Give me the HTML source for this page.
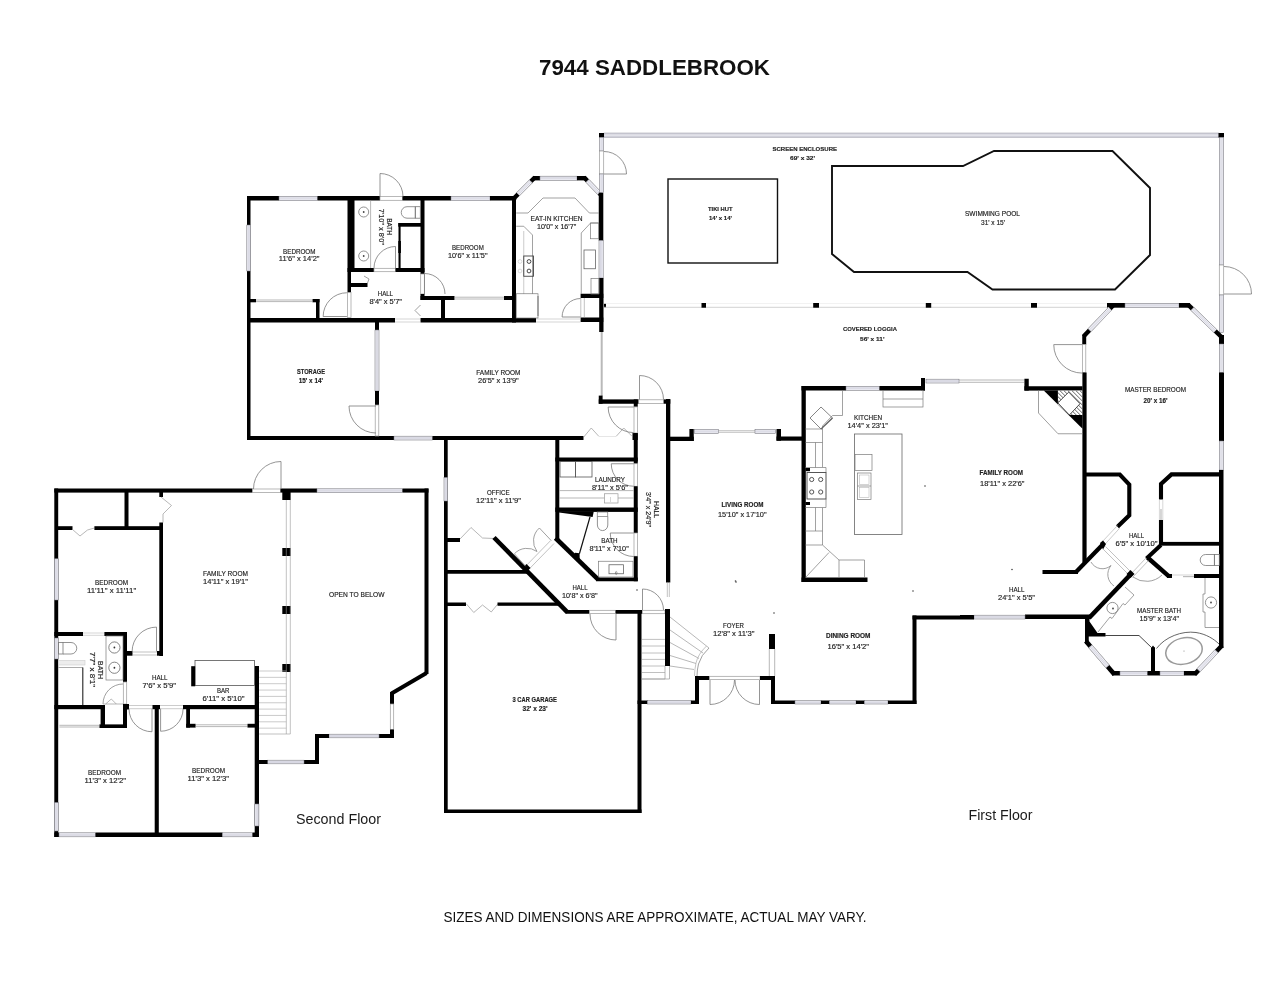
<!DOCTYPE html>
<html><head><meta charset="utf-8"><title>7944 Saddlebrook</title>
<style>html,body{margin:0;padding:0;background:#fff}svg{display:block;will-change:transform}text{font-family:"Liberation Sans",sans-serif}</style>
</head><body>
<svg width="1280" height="989" viewBox="0 0 1280 989">
<rect width="1280" height="989" fill="#fff"/>
<text x="539.00" y="75.00" textLength="231.00" lengthAdjust="spacingAndGlyphs" font-family="Liberation Sans" font-size="22.8" font-weight="bold" fill="#111">7944 SADDLEBROOK</text>
<text x="443.50" y="922.00" textLength="423.00" lengthAdjust="spacingAndGlyphs" font-family="Liberation Sans" font-size="14" fill="#111">SIZES AND DIMENSIONS ARE APPROXIMATE, ACTUAL MAY VARY.</text>
<text x="296.00" y="824.40" textLength="85.00" lengthAdjust="spacingAndGlyphs" font-family="Liberation Sans" font-size="14.8" fill="#1a1a1a">Second Floor</text>
<text x="968.50" y="820.00" textLength="64.00" lengthAdjust="spacingAndGlyphs" font-family="Liberation Sans" font-size="14.8" fill="#1a1a1a">First Floor</text>
<rect x="247.00" y="196.00" width="3.50" height="244.00" fill="#000"/>
<rect x="247.00" y="196.00" width="32.00" height="4.50" fill="#000"/>
<rect x="279.00" y="196.30" width="38.50" height="4.20" fill="#f3f3f9" stroke="#707078" stroke-width="0.55"/>
<line x1="279.00" y1="197.81" x2="317.50" y2="197.81" stroke="#b8b8c6" stroke-width="0.45"/>
<line x1="279.00" y1="198.99" x2="317.50" y2="198.99" stroke="#b8b8c6" stroke-width="0.45"/>
<rect x="317.50" y="196.00" width="62.50" height="4.50" fill="#000"/>
<rect x="380.00" y="196.50" width="22.50" height="3.80" fill="#fff" stroke="#9a9a9a" stroke-width="0.7"/>
<rect x="402.50" y="196.00" width="48.50" height="4.50" fill="#000"/>
<rect x="451.00" y="196.30" width="39.00" height="4.20" fill="#f3f3f9" stroke="#707078" stroke-width="0.55"/>
<line x1="451.00" y1="197.81" x2="490.00" y2="197.81" stroke="#b8b8c6" stroke-width="0.45"/>
<line x1="451.00" y1="198.99" x2="490.00" y2="198.99" stroke="#b8b8c6" stroke-width="0.45"/>
<rect x="490.00" y="196.00" width="26.00" height="4.50" fill="#000"/>
<path d="M380.00,196.50 L380.00,173.50 A23.00,23.00 0 0 1 403.00,196.50" fill="none" stroke="#7a7a7a" stroke-width="0.8"/>
<rect x="246.80" y="225.00" width="3.90" height="46.00" fill="#f3f3f9" stroke="#707078" stroke-width="0.55"/>
<line x1="248.20" y1="225.00" x2="248.20" y2="271.00" stroke="#b8b8c6" stroke-width="0.45"/>
<line x1="249.30" y1="225.00" x2="249.30" y2="271.00" stroke="#b8b8c6" stroke-width="0.45"/>
<rect x="347.50" y="198.00" width="7.00" height="74.00" fill="#000"/>
<rect x="347.50" y="272.00" width="3.50" height="20.50" fill="#000"/>
<rect x="347.50" y="292.50" width="3.50" height="25.00" fill="#fff" stroke="#9a9a9a" stroke-width="0.7"/>
<rect x="347.50" y="268.00" width="26.50" height="4.00" fill="#000"/>
<rect x="374.00" y="268.30" width="21.50" height="3.40" fill="#fff" stroke="#9a9a9a" stroke-width="0.7"/>
<rect x="395.50" y="268.00" width="29.00" height="4.00" fill="#000"/>
<rect x="420.50" y="198.00" width="4.00" height="76.00" fill="#000"/>
<rect x="420.70" y="274.00" width="3.60" height="20.00" fill="#fff" stroke="#9a9a9a" stroke-width="0.7"/>
<rect x="420.50" y="294.00" width="4.00" height="6.00" fill="#000"/>
<rect x="398.30" y="223.00" width="23.70" height="3.70" fill="#000"/>
<rect x="398.50" y="223.00" width="2.10" height="45.00" fill="#000"/>
<rect x="398.30" y="241.00" width="2.60" height="12.00" fill="#000"/>
<rect x="247.00" y="318.00" width="148.00" height="4.50" fill="#000"/>
<rect x="420.50" y="318.00" width="115.50" height="4.50" fill="#000"/>
<path d="M395.00,319.00 L420.50,319.00" stroke="#bbb" stroke-width="0.6" fill="none" stroke-linejoin="miter" stroke-linecap="butt"/>
<path d="M395.00,322.00 L420.50,322.00" stroke="#bbb" stroke-width="0.6" fill="none" stroke-linejoin="miter" stroke-linecap="butt"/>
<rect x="250.00" y="299.00" width="6.00" height="3.30" fill="#000"/>
<rect x="312.50" y="299.00" width="7.00" height="3.30" fill="#000"/>
<rect x="316.00" y="299.00" width="3.50" height="21.00" fill="#000"/>
<path d="M256.00,300.00 L312.50,300.00" stroke="#999" stroke-width="0.7" fill="none" stroke-linejoin="miter" stroke-linecap="butt"/>
<path d="M256.00,301.60 L312.50,301.60" stroke="#999" stroke-width="0.7" fill="none" stroke-linejoin="miter" stroke-linecap="butt"/>
<rect x="351.00" y="283.00" width="16.50" height="4.00" fill="#000"/>
<rect x="420.50" y="296.00" width="34.00" height="4.00" fill="#000"/>
<rect x="504.00" y="296.00" width="10.00" height="4.00" fill="#000"/>
<rect x="441.00" y="296.00" width="4.00" height="24.00" fill="#000"/>
<path d="M454.50,297.20 L504.00,297.20" stroke="#999" stroke-width="0.7" fill="none" stroke-linejoin="miter" stroke-linecap="butt"/>
<path d="M454.50,299.00 L504.00,299.00" stroke="#999" stroke-width="0.7" fill="none" stroke-linejoin="miter" stroke-linecap="butt"/>
<rect x="512.00" y="196.00" width="4.00" height="126.50" fill="#000"/>
<path d="M346.90,316.50 L323.15,316.50 A23.75,23.75 0 0 1 346.90,292.75" fill="none" stroke="#7a7a7a" stroke-width="0.8"/>
<path d="M395.50,268.00 L395.50,246.50 A21.50,21.50 0 0 0 374.00,268.00" fill="none" stroke="#7a7a7a" stroke-width="0.8"/>
<path d="M424.50,294.00 L424.50,273.50 A20.50,20.50 0 0 1 445.00,294.00" fill="none" stroke="#7a7a7a" stroke-width="0.8"/>
<path d="M420.50,305.00 L415.00,310.50 L420.50,316.00" stroke="#7a7a7a" stroke-width="0.7" fill="none" stroke-linejoin="miter" stroke-linecap="butt"/>
<path d="M364.00,276.00 L369.00,279.00 L367.50,283.00" stroke="#7a7a7a" stroke-width="0.7" fill="none" stroke-linejoin="miter" stroke-linecap="butt"/>
<path d="M370.60,200.50 L370.60,268.00" stroke="#999" stroke-width="0.7" fill="none" stroke-linejoin="miter" stroke-linecap="butt"/>
<circle cx="363.7" cy="212" r="5" fill="none" stroke="#777" stroke-width="0.8"/><circle cx="363.7" cy="212" r="0.9" fill="#444"/>
<circle cx="363.7" cy="256" r="5" fill="none" stroke="#777" stroke-width="0.8"/><circle cx="363.7" cy="256" r="0.9" fill="#444"/>
<path d="M415.3,206.7 L407,206.7 A5.75,5.75 0 0 0 407,218.2 L415.3,218.2 Z" fill="none" stroke="#777" stroke-width="0.8"/>
<rect x="415.30" y="206.70" width="5.00" height="11.50" fill="none" stroke="#777" stroke-width="0.8"/>
<rect x="247.00" y="436.00" width="147.00" height="4.00" fill="#000"/>
<rect x="394.00" y="436.20" width="38.50" height="3.80" fill="#f3f3f9" stroke="#707078" stroke-width="0.55"/>
<line x1="394.00" y1="437.57" x2="432.50" y2="437.57" stroke="#b8b8c6" stroke-width="0.45"/>
<line x1="394.00" y1="438.63" x2="432.50" y2="438.63" stroke="#b8b8c6" stroke-width="0.45"/>
<rect x="432.50" y="436.00" width="151.00" height="4.00" fill="#000"/>
<rect x="375.00" y="322.00" width="4.00" height="8.00" fill="#000"/>
<rect x="375.00" y="330.00" width="4.00" height="61.00" fill="#f3f3f9" stroke="#707078" stroke-width="0.55"/>
<line x1="376.44" y1="330.00" x2="376.44" y2="391.00" stroke="#b8b8c6" stroke-width="0.45"/>
<line x1="377.56" y1="330.00" x2="377.56" y2="391.00" stroke="#b8b8c6" stroke-width="0.45"/>
<rect x="375.00" y="391.00" width="4.00" height="14.00" fill="#000"/>
<rect x="375.20" y="405.00" width="3.60" height="31.00" fill="#fff" stroke="#9a9a9a" stroke-width="0.7"/>
<path d="M376.00,406.00 L349.00,406.00 A27.00,27.00 0 0 0 376.00,433.00" fill="none" stroke="#7a7a7a" stroke-width="0.8"/>
<rect x="632.50" y="433.00" width="5.25" height="7.00" fill="#000"/>
<path d="M583.75,437.00 L591.25,428.00 L598.75,436.25" stroke="#999" stroke-width="0.7" fill="none" stroke-linejoin="miter" stroke-linecap="butt"/>
<path d="M616.25,436.25 L623.75,428.00 L632.00,436.25" stroke="#999" stroke-width="0.7" fill="none" stroke-linejoin="miter" stroke-linecap="butt"/>
<path d="M598.75,436.50 L616.25,436.50" stroke="#ccc" stroke-width="0.5" fill="none" stroke-linejoin="miter" stroke-linecap="butt"/>
<text x="283.00" y="253.75" textLength="32.50" lengthAdjust="spacingAndGlyphs" font-family="Liberation Sans" font-size="6.7" stroke="#222" stroke-width="0.15" fill="#222">BEDROOM</text>
<text x="278.75" y="261.25" textLength="40.75" lengthAdjust="spacingAndGlyphs" font-family="Liberation Sans" font-size="6.7" stroke="#222" stroke-width="0.15" fill="#222">11'6&quot; x 14'2&quot;</text>
<text x="452.00" y="250.00" textLength="31.75" lengthAdjust="spacingAndGlyphs" font-family="Liberation Sans" font-size="6.7" stroke="#222" stroke-width="0.15" fill="#222">BEDROOM</text>
<text x="448.00" y="258.00" textLength="39.50" lengthAdjust="spacingAndGlyphs" font-family="Liberation Sans" font-size="6.7" stroke="#222" stroke-width="0.15" fill="#222">10'6&quot; x 11'5&quot;</text>
<text x="377.75" y="296.30" textLength="15.25" lengthAdjust="spacingAndGlyphs" font-family="Liberation Sans" font-size="6.7" stroke="#222" stroke-width="0.15" fill="#222">HALL</text>
<text x="369.40" y="303.80" textLength="32.60" lengthAdjust="spacingAndGlyphs" font-family="Liberation Sans" font-size="6.7" stroke="#222" stroke-width="0.15" fill="#222">8'4&quot; x 5'7&quot;</text>
<text x="297.00" y="374.25" textLength="28.00" lengthAdjust="spacingAndGlyphs" font-family="Liberation Sans" font-size="6.7" font-weight="bold" stroke="#222" stroke-width="0.15" fill="#222">STORAGE</text>
<text x="298.75" y="382.50" textLength="24.25" lengthAdjust="spacingAndGlyphs" font-family="Liberation Sans" font-size="6.7" font-weight="bold" stroke="#222" stroke-width="0.15" fill="#222">15' x 14'</text>
<text x="476.25" y="375.00" textLength="44.25" lengthAdjust="spacingAndGlyphs" font-family="Liberation Sans" font-size="6.7" stroke="#222" stroke-width="0.15" fill="#222">FAMILY ROOM</text>
<text x="478.00" y="383.00" textLength="40.75" lengthAdjust="spacingAndGlyphs" font-family="Liberation Sans" font-size="6.7" stroke="#222" stroke-width="0.15" fill="#222">26'5&quot; x 13'9&quot;</text>
<text x="0" y="0" textLength="16.80" lengthAdjust="spacingAndGlyphs" font-size="6.7" stroke="#222" stroke-width="0.15" fill="#222" transform="translate(387.00,218.20) rotate(90)">BATH</text>
<text x="0" y="0" textLength="36.20" lengthAdjust="spacingAndGlyphs" font-size="6.7" stroke="#222" stroke-width="0.15" fill="#222" transform="translate(379.00,208.80) rotate(90)">7'10&quot; x 8'0&quot;</text>
<rect x="533.00" y="176.00" width="7.00" height="4.40" fill="#000"/>
<rect x="540.00" y="176.20" width="37.00" height="4.10" fill="#f3f3f9" stroke="#707078" stroke-width="0.55"/>
<line x1="540.00" y1="177.68" x2="577.00" y2="177.68" stroke="#b8b8c6" stroke-width="0.45"/>
<line x1="540.00" y1="178.82" x2="577.00" y2="178.82" stroke="#b8b8c6" stroke-width="0.45"/>
<rect x="577.00" y="176.00" width="9.00" height="4.40" fill="#000"/>
<path d="M535.00,177.20 L514.00,198.30" stroke="#000" stroke-width="4.4" fill="none" stroke-linejoin="miter" stroke-linecap="butt"/>
<path d="M530.80,181.42 L518.20,194.08" stroke="#fff" stroke-width="4.800000000000001" fill="none" stroke-linejoin="miter" stroke-linecap="butt"/>
<path d="M529.35,179.97 L516.75,192.63 L519.65,195.53 L532.25,182.87 Z" fill="#f3f3f9" stroke="#707078" stroke-width="0.55"/>
<line x1="531.21" y1="181.82" x2="518.61" y2="194.48" stroke="#b8b8c6" stroke-width="0.45"/>
<line x1="530.39" y1="181.02" x2="517.79" y2="193.68" stroke="#b8b8c6" stroke-width="0.45"/>
<path d="M584.00,177.20 L601.50,195.50" stroke="#000" stroke-width="4.4" fill="none" stroke-linejoin="miter" stroke-linecap="butt"/>
<path d="M587.50,180.86 L599.23,193.12" stroke="#fff" stroke-width="4.800000000000001" fill="none" stroke-linejoin="miter" stroke-linecap="butt"/>
<path d="M586.02,182.28 L597.74,194.54 L600.71,191.70 L588.98,179.44 Z" fill="#f3f3f9" stroke="#707078" stroke-width="0.55"/>
<line x1="587.91" y1="180.46" x2="599.64" y2="192.72" stroke="#b8b8c6" stroke-width="0.45"/>
<line x1="587.09" y1="181.26" x2="598.81" y2="193.52" stroke="#b8b8c6" stroke-width="0.45"/>
<rect x="512.00" y="196.00" width="4.25" height="4.00" fill="#000"/>
<rect x="598.75" y="192.50" width="4.55" height="48.10" fill="#000"/>
<rect x="599.00" y="240.60" width="4.20" height="37.40" fill="#f3f3f9" stroke="#707078" stroke-width="0.55"/>
<line x1="600.51" y1="240.60" x2="600.51" y2="278.00" stroke="#b8b8c6" stroke-width="0.45"/>
<line x1="601.69" y1="240.60" x2="601.69" y2="278.00" stroke="#b8b8c6" stroke-width="0.45"/>
<rect x="599.20" y="278.00" width="4.30" height="54.00" fill="#000"/>
<rect x="604.00" y="303.50" width="2.00" height="4.00" fill="#000"/>
<path d="M601.70,332.00 L601.70,396.00" stroke="#b9b9b9" stroke-width="2.0" fill="none" stroke-linejoin="miter" stroke-linecap="butt"/>
<rect x="580.60" y="293.75" width="22.70" height="4.25" fill="#000"/>
<rect x="580.60" y="317.50" width="22.70" height="4.50" fill="#000"/>
<path d="M580.60,317.00 L562.10,317.00 A18.50,18.50 0 0 1 580.60,298.50" fill="none" stroke="#7a7a7a" stroke-width="0.8"/>
<path d="M580.80,298.00 L580.80,317.50" stroke="#999" stroke-width="0.6" fill="none" stroke-linejoin="miter" stroke-linecap="butt"/>
<path d="M584.30,298.00 L584.30,317.50" stroke="#999" stroke-width="0.6" fill="none" stroke-linejoin="miter" stroke-linecap="butt"/>
<path d="M536.00,319.00 L580.50,319.00" stroke="#bbb" stroke-width="0.6" fill="none" stroke-linejoin="miter" stroke-linecap="butt"/>
<path d="M536.00,322.00 L580.50,322.00" stroke="#bbb" stroke-width="0.6" fill="none" stroke-linejoin="miter" stroke-linecap="butt"/>
<path d="M516.25,213.00 L528.00,213.00 L543.00,198.00 L575.00,198.00 L589.40,213.00 L598.75,213.00" stroke="#7a7a7a" stroke-width="0.7" fill="none" stroke-linejoin="miter" stroke-linecap="butt"/>
<path d="M516.25,226.25 L523.75,226.25 L532.50,235.00 L532.50,294.00" stroke="#7a7a7a" stroke-width="0.7" fill="none" stroke-linejoin="miter" stroke-linecap="butt"/>
<path d="M523.75,231.00 L523.75,294.00" stroke="#aaa" stroke-width="0.6" fill="none" stroke-linejoin="miter" stroke-linecap="butt"/>
<rect x="523.75" y="256.00" width="9.75" height="20.25" fill="none" stroke="#444" stroke-width="0.9"/>
<circle cx="529" cy="261.5" r="1.9" fill="none" stroke="#333" stroke-width="0.9"/>
<circle cx="520" cy="261.5" r="1.9" fill="none" stroke="#ccc" stroke-width="0.7"/>
<circle cx="529" cy="271" r="1.9" fill="none" stroke="#333" stroke-width="0.9"/>
<circle cx="520" cy="271" r="1.9" fill="none" stroke="#ccc" stroke-width="0.7"/>
<rect x="516.25" y="293.75" width="21.75" height="24.25" fill="none" stroke="#7a7a7a" stroke-width="0.7"/>
<path d="M538.00,296.00 L538.00,316.00" stroke="#777" stroke-width="1.0" fill="none" stroke-linejoin="miter" stroke-linecap="butt"/>
<path d="M598.75,223.00 L590.60,223.00 L581.25,233.00 L581.25,294.00" stroke="#7a7a7a" stroke-width="0.7" fill="none" stroke-linejoin="miter" stroke-linecap="butt"/>
<rect x="584.00" y="250.00" width="11.60" height="18.75" fill="none" stroke="#666" stroke-width="0.8"/>
<rect x="590.60" y="223.00" width="8.15" height="15.75" fill="none" stroke="#7a7a7a" stroke-width="0.7"/>
<rect x="591.00" y="278.50" width="7.75" height="15.50" fill="none" stroke="#7a7a7a" stroke-width="0.7"/>
<text x="530.60" y="220.60" textLength="51.90" lengthAdjust="spacingAndGlyphs" font-family="Liberation Sans" font-size="6.7" stroke="#222" stroke-width="0.15" fill="#222">EAT-IN KITCHEN</text>
<text x="537.00" y="228.75" textLength="39.25" lengthAdjust="spacingAndGlyphs" font-family="Liberation Sans" font-size="6.7" stroke="#222" stroke-width="0.15" fill="#222">10'0&quot; x 16'7&quot;</text>
<rect x="604" y="133" width="615" height="4.3" fill="#d0d0da" stroke="#a8a8b2" stroke-width="0.6"/>
<line x1="604" y1="135.1" x2="1219" y2="135.1" stroke="#e8e8ee" stroke-width="1.2"/>
<rect x="599.00" y="133.00" width="5.00" height="4.50" fill="#000"/>
<rect x="1218.50" y="133.00" width="5.50" height="4.50" fill="#000"/>
<rect x="599.50" y="137.50" width="4.20" height="13.50" fill="#f3f3f9" stroke="#707078" stroke-width="0.55"/>
<line x1="601.01" y1="137.50" x2="601.01" y2="151.00" stroke="#b8b8c6" stroke-width="0.45"/>
<line x1="602.19" y1="137.50" x2="602.19" y2="151.00" stroke="#b8b8c6" stroke-width="0.45"/>
<rect x="599.50" y="151.00" width="4.20" height="23.00" fill="#fff" stroke="#9a9a9a" stroke-width="0.7"/>
<rect x="599.50" y="174.00" width="4.20" height="18.50" fill="#f3f3f9" stroke="#707078" stroke-width="0.55"/>
<line x1="601.01" y1="174.00" x2="601.01" y2="192.50" stroke="#b8b8c6" stroke-width="0.45"/>
<line x1="602.19" y1="174.00" x2="602.19" y2="192.50" stroke="#b8b8c6" stroke-width="0.45"/>
<path d="M604.00,174.00 L626.50,174.00 A22.50,22.50 0 0 0 604.00,151.50" fill="none" stroke="#7a7a7a" stroke-width="0.8"/>
<rect x="1219.30" y="137.50" width="4.40" height="127.50" fill="#f3f3f9" stroke="#707078" stroke-width="0.55"/>
<line x1="1220.88" y1="137.50" x2="1220.88" y2="265.00" stroke="#b8b8c6" stroke-width="0.45"/>
<line x1="1222.12" y1="137.50" x2="1222.12" y2="265.00" stroke="#b8b8c6" stroke-width="0.45"/>
<rect x="1219.30" y="265.00" width="4.40" height="30.00" fill="#fff" stroke="#9a9a9a" stroke-width="0.7"/>
<rect x="1219.30" y="295.00" width="4.40" height="37.50" fill="#f3f3f9" stroke="#707078" stroke-width="0.55"/>
<line x1="1220.88" y1="295.00" x2="1220.88" y2="332.50" stroke="#b8b8c6" stroke-width="0.45"/>
<line x1="1222.12" y1="295.00" x2="1222.12" y2="332.50" stroke="#b8b8c6" stroke-width="0.45"/>
<path d="M1224.00,294.00 L1251.50,294.00 A27.50,27.50 0 0 0 1224.00,266.50" fill="none" stroke="#7a7a7a" stroke-width="0.8"/>
<path d="M604.00,307.30 L1107.00,307.30" stroke="#cdcdcd" stroke-width="0.9" fill="none" stroke-linejoin="miter" stroke-linecap="butt"/>
<path d="M604.00,303.50 L1107.00,303.50" stroke="#ececec" stroke-width="0.7" fill="none" stroke-linejoin="miter" stroke-linecap="butt"/>
<rect x="701.50" y="303.00" width="4.50" height="4.70" fill="#000"/>
<rect x="813.20" y="303.00" width="5.80" height="4.70" fill="#000"/>
<rect x="925.80" y="303.00" width="5.40" height="4.70" fill="#000"/>
<rect x="1031.00" y="303.00" width="6.00" height="4.70" fill="#000"/>
<rect x="668.00" y="179.00" width="109.50" height="84.00" fill="none" stroke="#111" stroke-width="1.4"/>
<path d="M832.00,166.00 L963.00,166.00 L994.00,151.00 L1112.50,151.00 L1150.00,188.00 L1150.00,255.00 L1115.00,289.50 L992.50,289.50 L967.50,272.00 L854.00,272.00 L832.00,254.00 Z" stroke="#111" stroke-width="1.9" fill="none" stroke-linejoin="miter" stroke-linecap="butt"/>
<text x="772.50" y="150.50" textLength="64.50" lengthAdjust="spacingAndGlyphs" font-family="Liberation Sans" font-size="6.14" font-weight="bold" stroke="#222" stroke-width="0.15" fill="#222">SCREEN ENCLOSURE</text>
<text x="790.00" y="160.00" textLength="25.00" lengthAdjust="spacingAndGlyphs" font-family="Liberation Sans" font-size="6.14" font-weight="bold" stroke="#222" stroke-width="0.15" fill="#222">69' x 32'</text>
<text x="708.00" y="211.00" textLength="24.50" lengthAdjust="spacingAndGlyphs" font-family="Liberation Sans" font-size="6.14" font-weight="bold" stroke="#222" stroke-width="0.15" fill="#222">TIKI HUT</text>
<text x="709.00" y="220.00" textLength="23.00" lengthAdjust="spacingAndGlyphs" font-family="Liberation Sans" font-size="6.14" font-weight="bold" stroke="#222" stroke-width="0.15" fill="#222">14' x 14'</text>
<text x="965.00" y="216.00" textLength="55.00" lengthAdjust="spacingAndGlyphs" font-family="Liberation Sans" font-size="6.32" stroke="#222" stroke-width="0.15" fill="#222">SWIMMING POOL</text>
<text x="981.00" y="225.00" textLength="24.00" lengthAdjust="spacingAndGlyphs" font-family="Liberation Sans" font-size="6.32" stroke="#222" stroke-width="0.15" fill="#222">31' x 15'</text>
<text x="843.00" y="331.00" textLength="54.00" lengthAdjust="spacingAndGlyphs" font-family="Liberation Sans" font-size="6.14" font-weight="bold" stroke="#222" stroke-width="0.15" fill="#222">COVERED LOGGIA</text>
<text x="860.00" y="341.00" textLength="24.50" lengthAdjust="spacingAndGlyphs" font-family="Liberation Sans" font-size="6.14" font-weight="bold" stroke="#222" stroke-width="0.15" fill="#222">56' x 11'</text>
<rect x="1107.00" y="303.00" width="18.00" height="4.70" fill="#000"/>
<rect x="1125.00" y="303.30" width="54.00" height="4.20" fill="#f3f3f9" stroke="#707078" stroke-width="0.55"/>
<line x1="1125.00" y1="304.81" x2="1179.00" y2="304.81" stroke="#b8b8c6" stroke-width="0.45"/>
<line x1="1125.00" y1="305.99" x2="1179.00" y2="305.99" stroke="#b8b8c6" stroke-width="0.45"/>
<rect x="1179.00" y="303.00" width="11.00" height="4.70" fill="#000"/>
<path d="M1114.00,304.60 L1083.50,336.50" stroke="#000" stroke-width="4.4" fill="none" stroke-linejoin="miter" stroke-linecap="butt"/>
<path d="M1110.04,308.75 L1089.60,330.12" stroke="#fff" stroke-width="4.800000000000001" fill="none" stroke-linejoin="miter" stroke-linecap="butt"/>
<path d="M1108.55,307.33 L1088.12,328.70 L1091.08,331.54 L1111.52,310.16 Z" fill="#f3f3f9" stroke="#707078" stroke-width="0.55"/>
<line x1="1110.45" y1="309.14" x2="1090.01" y2="330.52" stroke="#b8b8c6" stroke-width="0.45"/>
<line x1="1109.62" y1="308.35" x2="1089.19" y2="329.72" stroke="#b8b8c6" stroke-width="0.45"/>
<rect x="1082.25" y="335.00" width="3.95" height="9.60" fill="#000"/>
<path d="M1188.00,304.60 L1222.00,337.50" stroke="#000" stroke-width="4.4" fill="none" stroke-linejoin="miter" stroke-linecap="butt"/>
<path d="M1192.42,308.88 L1215.20,330.92" stroke="#fff" stroke-width="4.800000000000001" fill="none" stroke-linejoin="miter" stroke-linecap="butt"/>
<path d="M1190.99,310.35 L1213.77,332.39 L1216.63,329.45 L1193.85,307.40 Z" fill="#f3f3f9" stroke="#707078" stroke-width="0.55"/>
<line x1="1192.82" y1="308.46" x2="1215.60" y2="330.51" stroke="#b8b8c6" stroke-width="0.45"/>
<line x1="1192.02" y1="309.29" x2="1214.80" y2="331.33" stroke="#b8b8c6" stroke-width="0.45"/>
<rect x="1219.00" y="335.00" width="5.00" height="9.00" fill="#000"/>
<rect x="1082.50" y="344.40" width="3.30" height="28.10" fill="#fff" stroke="#9a9a9a" stroke-width="0.7"/>
<rect x="1082.40" y="372.50" width="4.20" height="190.00" fill="#000"/>
<path d="M1082.25,344.60 L1053.75,344.60 A28.50,28.50 0 0 0 1082.25,373.10" fill="none" stroke="#7a7a7a" stroke-width="0.8"/>
<rect x="1219.30" y="344.00" width="4.40" height="28.50" fill="#f3f3f9" stroke="#707078" stroke-width="0.55"/>
<line x1="1220.88" y1="344.00" x2="1220.88" y2="372.50" stroke="#b8b8c6" stroke-width="0.45"/>
<line x1="1222.12" y1="344.00" x2="1222.12" y2="372.50" stroke="#b8b8c6" stroke-width="0.45"/>
<rect x="1219.00" y="372.50" width="5.00" height="68.50" fill="#000"/>
<rect x="1219.30" y="441.00" width="4.40" height="29.00" fill="#f3f3f9" stroke="#707078" stroke-width="0.55"/>
<line x1="1220.88" y1="441.00" x2="1220.88" y2="470.00" stroke="#b8b8c6" stroke-width="0.45"/>
<line x1="1222.12" y1="441.00" x2="1222.12" y2="470.00" stroke="#b8b8c6" stroke-width="0.45"/>
<rect x="1219.00" y="470.00" width="4.50" height="178.00" fill="#000"/>
<text x="1125.00" y="392.00" textLength="61.00" lengthAdjust="spacingAndGlyphs" font-family="Liberation Sans" font-size="6.7" stroke="#222" stroke-width="0.15" fill="#222">MASTER BEDROOM</text>
<text x="1143.50" y="403.00" textLength="24.00" lengthAdjust="spacingAndGlyphs" font-family="Liberation Sans" font-size="6.51" font-weight="bold" stroke="#222" stroke-width="0.15" fill="#222">20' x 16'</text>
<rect x="926.00" y="379.20" width="33.00" height="3.80" fill="#f3f3f9" stroke="#707078" stroke-width="0.55"/>
<line x1="926.00" y1="380.57" x2="959.00" y2="380.57" stroke="#b8b8c6" stroke-width="0.45"/>
<line x1="926.00" y1="381.63" x2="959.00" y2="381.63" stroke="#b8b8c6" stroke-width="0.45"/>
<path d="M959.00,380.00 L1024.00,380.00" stroke="#999" stroke-width="0.7" fill="none" stroke-linejoin="miter" stroke-linecap="butt"/>
<path d="M959.00,382.30 L1024.00,382.30" stroke="#999" stroke-width="0.7" fill="none" stroke-linejoin="miter" stroke-linecap="butt"/>
<rect x="1024.40" y="378.75" width="4.35" height="11.85" fill="#000"/>
<rect x="1024.40" y="386.25" width="58.10" height="4.35" fill="#000"/>
<path d="M1043.75,390.60 L1082.50,390.60 L1082.50,428.75 Z" fill="#000"/>
<clipPath id="fpc"><path d="M1057.9,390.6 L1082.25,390.6 L1082.25,415 L1069.4,415 L1057.9,404.6 Z"/></clipPath>
<path d="M1057.9,390.6 L1082.25,390.6 L1082.25,415 L1069.4,415 L1057.9,404.6 Z" fill="#fff"/>
<g clip-path="url(#fpc)" stroke="#222" stroke-width="0.7" fill="none"><line x1="1039.9" y1="390.6" x2="1069.9" y2="420.6"/><line x1="1043.9" y1="390.6" x2="1073.9" y2="420.6"/><line x1="1047.9" y1="390.6" x2="1077.9" y2="420.6"/><line x1="1051.9" y1="390.6" x2="1081.9" y2="420.6"/><line x1="1055.9" y1="390.6" x2="1085.9" y2="420.6"/><line x1="1059.9" y1="390.6" x2="1089.9" y2="420.6"/><line x1="1063.9" y1="390.6" x2="1093.9" y2="420.6"/><line x1="1067.9" y1="390.6" x2="1097.9" y2="420.6"/><line x1="1071.9" y1="390.6" x2="1101.9" y2="420.6"/><line x1="1075.9" y1="390.6" x2="1105.9" y2="420.6"/><line x1="1079.9" y1="390.6" x2="1109.9" y2="420.6"/></g>
<path d="M1057.9,402.9 L1068.75,392.1 L1080,403.75 L1069.4,415 Z" fill="#fff" stroke="#222" stroke-width="0.8"/>
<path d="M1038.50,390.60 L1038.50,413.00 L1058.00,433.75 L1082.25,433.75" stroke="#888" stroke-width="0.8" fill="none" stroke-linejoin="miter" stroke-linecap="butt"/>
<text x="979.50" y="475.00" textLength="43.50" lengthAdjust="spacingAndGlyphs" font-family="Liberation Sans" font-size="6.51" font-weight="bold" stroke="#222" stroke-width="0.15" fill="#222">FAMILY ROOM</text>
<text x="980.00" y="486.00" textLength="44.50" lengthAdjust="spacingAndGlyphs" font-family="Liberation Sans" font-size="6.51" stroke="#222" stroke-width="0.15" fill="#222">18'11&quot; x 22'6&quot;</text>
<path d="M1086.00,474.50 L1119.80,474.50 L1129.30,484.50 L1129.30,515.30 L1117.50,526.80" stroke="#000" stroke-width="4.1" fill="none" stroke-linejoin="miter" stroke-linecap="butt"/>
<path d="M1117.50,525.50 L1102.00,542.00" stroke="#aaa" stroke-width="0.6" fill="none" stroke-linejoin="miter" stroke-linecap="butt"/>
<path d="M1119.80,528.00 L1104.50,544.80" stroke="#aaa" stroke-width="0.6" fill="none" stroke-linejoin="miter" stroke-linecap="butt"/>
<path d="M1221.00,474.40 L1171.50,474.40 L1161.00,484.00 L1161.00,499.40" stroke="#000" stroke-width="4.1" fill="none" stroke-linejoin="miter" stroke-linecap="butt"/>
<path d="M1159.40,499.40 L1159.40,520.00" stroke="#bbb" stroke-width="0.6" fill="none" stroke-linejoin="miter" stroke-linecap="butt"/>
<path d="M1162.80,499.40 L1162.80,520.00" stroke="#bbb" stroke-width="0.6" fill="none" stroke-linejoin="miter" stroke-linecap="butt"/>
<path d="M1161.00,509.00 L1161.00,520.00" stroke="#c4c4c4" stroke-width="1.4" fill="none" stroke-linejoin="miter" stroke-linecap="butt"/>
<path d="M1161.00,520.00 L1161.00,544.50" stroke="#000" stroke-width="4.1" fill="none" stroke-linejoin="miter" stroke-linecap="butt"/>
<rect x="1159.00" y="541.90" width="62.00" height="3.80" fill="#000"/>
<rect x="1042.50" y="570.00" width="35.50" height="4.00" fill="#000"/>
<path d="M1076.00,572.00 L1102.50,544.80" stroke="#000" stroke-width="4.2" fill="none" stroke-linejoin="miter" stroke-linecap="butt"/>
<path d="M1100.00,543.00 L1103.00,540.50 L1106.00,544.00 L1103.00,549.50 Z" fill="#000"/>
<path d="M1161.00,545.00 L1146.50,558.50" stroke="#000" stroke-width="4" fill="none" stroke-linejoin="miter" stroke-linecap="butt"/>
<path d="M1131.00,574.00 L1089.00,618.00" stroke="#000" stroke-width="4.6" fill="none" stroke-linejoin="miter" stroke-linecap="butt"/>
<rect x="1025.00" y="614.50" width="65.00" height="4.50" fill="#000"/>
<path d="M1147.50,557.50 L1169.00,576.30" stroke="#000" stroke-width="4.4" fill="none" stroke-linejoin="miter" stroke-linecap="butt"/>
<rect x="1167.00" y="574.00" width="5.00" height="4.00" fill="#000"/>
<path d="M1172.00,575.00 L1194.00,575.00" stroke="#bbb" stroke-width="0.6" fill="none" stroke-linejoin="miter" stroke-linecap="butt"/>
<path d="M1183.00,576.60 L1194.00,576.60" stroke="#bbb" stroke-width="1.2" fill="none" stroke-linejoin="miter" stroke-linecap="butt"/>
<rect x="1194.00" y="574.00" width="26.00" height="4.00" fill="#000"/>
<path d="M1103.00,549.00 L1129.00,575.00" stroke="#999" stroke-width="0.6" fill="none" stroke-linejoin="miter" stroke-linecap="butt"/>
<path d="M1105.50,546.50 L1131.50,572.50" stroke="#999" stroke-width="0.6" fill="none" stroke-linejoin="miter" stroke-linecap="butt"/>
<path d="M1130.00,575.00 L1146.00,558.00" stroke="#999" stroke-width="0.6" fill="none" stroke-linejoin="miter" stroke-linecap="butt"/>
<path d="M1132.50,577.50 L1148.50,560.50" stroke="#999" stroke-width="0.6" fill="none" stroke-linejoin="miter" stroke-linecap="butt"/>
<path d="M1126.50,574.00 L1130.50,570.00 L1134.50,574.00 L1130.50,578.00 Z" fill="#000"/>
<path d="M1091,562 A13,13 0 0 0 1111,565.5" fill="none" stroke="#888" stroke-width="0.8"/>
<path d="M1111,565.5 A14,14 0 0 0 1114,586" fill="none" stroke="#888" stroke-width="0.8"/>
<path d="M1133,577 A22.5,22.5 0 0 0 1162,575" fill="none" stroke="#888" stroke-width="0.8"/>
<text x="1129.00" y="537.50" textLength="15.00" lengthAdjust="spacingAndGlyphs" font-family="Liberation Sans" font-size="6.7" stroke="#222" stroke-width="0.15" fill="#222">HALL</text>
<text x="1115.50" y="545.50" textLength="42.00" lengthAdjust="spacingAndGlyphs" font-family="Liberation Sans" font-size="6.7" stroke="#222" stroke-width="0.15" fill="#222">6'5&quot; x 10'10&quot;</text>
<text x="1009.00" y="592.00" textLength="15.50" lengthAdjust="spacingAndGlyphs" font-family="Liberation Sans" font-size="6.7" stroke="#222" stroke-width="0.15" fill="#222">HALL</text>
<text x="998.00" y="599.50" textLength="37.00" lengthAdjust="spacingAndGlyphs" font-family="Liberation Sans" font-size="6.7" stroke="#222" stroke-width="0.15" fill="#222">24'1&quot; x 5'5&quot;</text>
<rect x="960.00" y="615.00" width="14.00" height="4.00" fill="#000"/>
<rect x="974.00" y="615.20" width="51.00" height="3.80" fill="#f3f3f9" stroke="#707078" stroke-width="0.55"/>
<line x1="974.00" y1="616.57" x2="1025.00" y2="616.57" stroke="#b8b8c6" stroke-width="0.45"/>
<line x1="974.00" y1="617.63" x2="1025.00" y2="617.63" stroke="#b8b8c6" stroke-width="0.45"/>
<path d="M1085.00,618.00 L1085.00,644.00 L1088.50,644.00 L1088.50,636.50 L1105.50,636.50 L1105.50,633.00 L1097.50,633.00 L1089.50,621.50 L1089.50,618.00 Z" fill="#000"/>
<rect x="1085.00" y="636.00" width="3.50" height="7.50" fill="#000"/>
<path d="M1085.80,641.00 L1114.50,674.50" stroke="#000" stroke-width="4.6" fill="none" stroke-linejoin="miter" stroke-linecap="butt"/>
<path d="M1090.39,646.36 L1107.61,666.46" stroke="#fff" stroke-width="5.0" fill="none" stroke-linejoin="miter" stroke-linecap="butt"/>
<path d="M1088.76,647.76 L1105.98,667.86 L1109.24,665.06 L1092.02,644.96 Z" fill="#f3f3f9" stroke="#707078" stroke-width="0.55"/>
<line x1="1090.85" y1="645.97" x2="1108.07" y2="666.07" stroke="#b8b8c6" stroke-width="0.45"/>
<line x1="1089.93" y1="646.75" x2="1107.15" y2="666.85" stroke="#b8b8c6" stroke-width="0.45"/>
<rect x="1112.00" y="671.00" width="8.00" height="4.50" fill="#000"/>
<rect x="1120.00" y="671.30" width="27.50" height="4.00" fill="#f3f3f9" stroke="#707078" stroke-width="0.55"/>
<line x1="1120.00" y1="672.74" x2="1147.50" y2="672.74" stroke="#b8b8c6" stroke-width="0.45"/>
<line x1="1120.00" y1="673.86" x2="1147.50" y2="673.86" stroke="#b8b8c6" stroke-width="0.45"/>
<rect x="1147.50" y="671.00" width="12.50" height="4.50" fill="#000"/>
<rect x="1160.00" y="671.30" width="24.00" height="4.00" fill="#f3f3f9" stroke="#707078" stroke-width="0.55"/>
<line x1="1160.00" y1="672.74" x2="1184.00" y2="672.74" stroke="#b8b8c6" stroke-width="0.45"/>
<line x1="1160.00" y1="673.86" x2="1184.00" y2="673.86" stroke="#b8b8c6" stroke-width="0.45"/>
<rect x="1184.00" y="671.00" width="12.00" height="4.50" fill="#000"/>
<path d="M1194.50,674.50 L1222.00,645.50" stroke="#000" stroke-width="4.6" fill="none" stroke-linejoin="miter" stroke-linecap="butt"/>
<path d="M1198.62,670.15 L1216.50,651.30" stroke="#fff" stroke-width="5.0" fill="none" stroke-linejoin="miter" stroke-linecap="butt"/>
<path d="M1200.19,671.63 L1218.06,652.78 L1214.94,649.82 L1197.06,668.67 Z" fill="#f3f3f9" stroke="#707078" stroke-width="0.55"/>
<line x1="1198.19" y1="669.74" x2="1216.06" y2="650.89" stroke="#b8b8c6" stroke-width="0.45"/>
<line x1="1199.06" y1="670.56" x2="1216.94" y2="651.71" stroke="#b8b8c6" stroke-width="0.45"/>
<rect x="1151.00" y="647.50" width="4.00" height="25.50" fill="#000"/>
<path d="M1151.00,648.00 L1153.00,645.50 L1155.00,648.00 Z" fill="#000"/>
<path d="M1105.00,635.50 L1139.00,635.50 L1152.00,648.00" stroke="#333" stroke-width="0.9" fill="none" stroke-linejoin="miter" stroke-linecap="butt"/>
<path d="M1156.5,648.5 C1165,637 1182,630.5 1196,632.5 C1206,634 1214,639 1219,644" fill="none" stroke="#555" stroke-width="0.9"/>
<ellipse cx="1184" cy="651" rx="18.5" ry="13" transform="rotate(-14 1184 651)" fill="none" stroke="#9a9a9a" stroke-width="1.5"/>
<circle cx="1184" cy="651" r="0.6" fill="#888"/>
<path d="M1214.4,554.5 L1205.7,554.5 A5.5,5.5 0 0 0 1205.7,565.5 L1214.4,565.5 Z" fill="none" stroke="#777" stroke-width="0.8"/>
<rect x="1214.40" y="554.50" width="4.90" height="11.00" fill="none" stroke="#777" stroke-width="0.8"/>
<path d="M1205.00,578.00 L1205.00,594.00 L1203.00,594.00 L1203.00,612.00 L1205.00,612.00 L1205.00,627.50 L1219.00,627.50" stroke="#7a7a7a" stroke-width="0.7" fill="none" stroke-linejoin="miter" stroke-linecap="butt"/>
<circle cx="1211" cy="602.5" r="5.6" fill="none" stroke="#777" stroke-width="0.8"/><circle cx="1211" cy="602.5" r="0.9" fill="#444"/>
<path d="M1125.00,587.00 L1134.00,595.00 L1125.00,605.00 L1123.00,603.50 L1112.00,618.50 L1110.00,617.00 L1098.00,632.00" stroke="#7a7a7a" stroke-width="0.7" fill="none" stroke-linejoin="miter" stroke-linecap="butt"/>
<circle cx="1112.5" cy="608" r="5.6" fill="none" stroke="#777" stroke-width="0.8"/><circle cx="1113" cy="608.5" r="0.9" fill="#444"/>
<text x="1137.00" y="613.00" textLength="44.00" lengthAdjust="spacingAndGlyphs" font-family="Liberation Sans" font-size="6.7" stroke="#222" stroke-width="0.15" fill="#222">MASTER BATH</text>
<text x="1139.50" y="620.50" textLength="39.50" lengthAdjust="spacingAndGlyphs" font-family="Liberation Sans" font-size="6.7" stroke="#222" stroke-width="0.15" fill="#222">15'9&quot; x 13'4&quot;</text>
<rect x="801.50" y="386.00" width="4.30" height="196.00" fill="#000"/>
<rect x="801.50" y="386.00" width="44.50" height="4.50" fill="#000"/>
<rect x="846.00" y="386.30" width="33.50" height="4.00" fill="#f3f3f9" stroke="#707078" stroke-width="0.55"/>
<line x1="846.00" y1="387.74" x2="879.50" y2="387.74" stroke="#b8b8c6" stroke-width="0.45"/>
<line x1="846.00" y1="388.86" x2="879.50" y2="388.86" stroke="#b8b8c6" stroke-width="0.45"/>
<rect x="879.50" y="386.00" width="45.50" height="4.50" fill="#000"/>
<rect x="921.00" y="378.00" width="4.00" height="12.50" fill="#000"/>
<rect x="801.50" y="577.50" width="66.00" height="4.50" fill="#000"/>
<rect x="854.50" y="434.00" width="47.50" height="100.50" fill="none" stroke="#666" stroke-width="0.8"/>
<rect x="855.00" y="454.50" width="17.00" height="16.00" fill="none" stroke="#7a7a7a" stroke-width="0.7"/>
<rect x="857.50" y="473.00" width="13.50" height="26.50" fill="none" stroke="#7a7a7a" stroke-width="0.7"/>
<path d="M857.50,486.00 L871.00,486.00" stroke="#7a7a7a" stroke-width="0.7" fill="none" stroke-linejoin="miter" stroke-linecap="butt"/>
<rect x="859.50" y="475.00" width="9.50" height="9.50" fill="none" stroke="#aaa" stroke-width="0.5"/>
<rect x="859.50" y="487.50" width="9.50" height="10.00" fill="none" stroke="#aaa" stroke-width="0.5"/>
<rect x="807.00" y="472.50" width="19.00" height="26.50" fill="none" stroke="#444" stroke-width="0.9"/>
<circle cx="811.7" cy="479.5" r="2.1" fill="none" stroke="#444" stroke-width="0.9"/>
<circle cx="811.7" cy="492" r="2.1" fill="none" stroke="#444" stroke-width="0.9"/>
<circle cx="820.7" cy="479.5" r="2.1" fill="none" stroke="#444" stroke-width="0.9"/>
<circle cx="820.7" cy="492" r="2.1" fill="none" stroke="#444" stroke-width="0.9"/>
<rect x="805.50" y="468.00" width="4.50" height="3.20" fill="#000"/>
<rect x="805.50" y="502.00" width="4.50" height="3.00" fill="#000"/>
<path d="M842.50,390.50 L842.50,415.50 L832.50,415.50 L822.50,426.00 L822.50,467.50 L826.00,467.50 L826.00,472.50" stroke="#7a7a7a" stroke-width="0.7" fill="none" stroke-linejoin="miter" stroke-linecap="butt"/>
<path d="M826.00,499.00 L826.00,507.50 L822.50,507.50 L822.50,545.00 L839.00,560.00 L864.50,560.00 L864.50,577.50" stroke="#7a7a7a" stroke-width="0.7" fill="none" stroke-linejoin="miter" stroke-linecap="butt"/>
<path d="M805.50,429.00 L822.50,429.00" stroke="#7a7a7a" stroke-width="0.7" fill="none" stroke-linejoin="miter" stroke-linecap="butt"/>
<path d="M805.50,442.50 L822.50,442.50" stroke="#7a7a7a" stroke-width="0.7" fill="none" stroke-linejoin="miter" stroke-linecap="butt"/>
<path d="M805.50,467.50 L822.50,467.50" stroke="#7a7a7a" stroke-width="0.7" fill="none" stroke-linejoin="miter" stroke-linecap="butt"/>
<path d="M805.50,507.50 L822.50,507.50" stroke="#7a7a7a" stroke-width="0.7" fill="none" stroke-linejoin="miter" stroke-linecap="butt"/>
<path d="M805.50,531.00 L822.50,531.00" stroke="#7a7a7a" stroke-width="0.7" fill="none" stroke-linejoin="miter" stroke-linecap="butt"/>
<path d="M805.50,545.00 L822.50,545.00" stroke="#7a7a7a" stroke-width="0.7" fill="none" stroke-linejoin="miter" stroke-linecap="butt"/>
<path d="M815.50,442.50 L815.50,467.50" stroke="#7a7a7a" stroke-width="0.7" fill="none" stroke-linejoin="miter" stroke-linecap="butt"/>
<path d="M815.50,507.50 L815.50,531.00" stroke="#7a7a7a" stroke-width="0.7" fill="none" stroke-linejoin="miter" stroke-linecap="butt"/>
<path d="M805.50,577.50 L829.00,552.50" stroke="#7a7a7a" stroke-width="0.7" fill="none" stroke-linejoin="miter" stroke-linecap="butt"/>
<path d="M839.00,560.00 L839.00,577.50" stroke="#7a7a7a" stroke-width="0.7" fill="none" stroke-linejoin="miter" stroke-linecap="butt"/>
<path d="M810.00,418.00 L821.00,407.00 L832.50,418.00 L821.00,429.00 Z" stroke="#666" stroke-width="0.8" fill="none" stroke-linejoin="miter" stroke-linecap="butt"/>
<path d="M821.00,429.00 L832.50,418.00" stroke="#666" stroke-width="1.2" fill="none" stroke-linejoin="miter" stroke-linecap="butt"/>
<rect x="883.00" y="390.50" width="40.00" height="16.50" fill="none" stroke="#7a7a7a" stroke-width="0.7"/>
<path d="M883.00,399.00 L923.00,399.00" stroke="#7a7a7a" stroke-width="0.7" fill="none" stroke-linejoin="miter" stroke-linecap="butt"/>
<text x="854.00" y="420.00" textLength="28.00" lengthAdjust="spacingAndGlyphs" font-family="Liberation Sans" font-size="6.7" stroke="#222" stroke-width="0.15" fill="#222">KITCHEN</text>
<text x="847.50" y="428.00" textLength="40.50" lengthAdjust="spacingAndGlyphs" font-family="Liberation Sans" font-size="6.7" stroke="#222" stroke-width="0.15" fill="#222">14'4&quot; x 23'1&quot;</text>
<circle cx="925" cy="486" r="0.8" fill="#444"/>
<circle cx="1012" cy="569.5" r="0.8" fill="#444"/>
<circle cx="913" cy="591" r="0.8" fill="#444"/>
<rect x="666.00" y="399.00" width="4.30" height="183.50" fill="#000"/>
<path d="M667.30,582.50 L667.30,597.00" stroke="#999" stroke-width="0.6" fill="none" stroke-linejoin="miter" stroke-linecap="butt"/>
<path d="M669.30,582.50 L669.30,597.00" stroke="#999" stroke-width="0.6" fill="none" stroke-linejoin="miter" stroke-linecap="butt"/>
<rect x="666.00" y="436.70" width="27.75" height="4.30" fill="#000"/>
<rect x="689.40" y="429.00" width="4.35" height="12.00" fill="#000"/>
<rect x="694.40" y="429.50" width="24.10" height="4.00" fill="#f3f3f9" stroke="#707078" stroke-width="0.55"/>
<line x1="694.40" y1="430.94" x2="718.50" y2="430.94" stroke="#b8b8c6" stroke-width="0.45"/>
<line x1="694.40" y1="432.06" x2="718.50" y2="432.06" stroke="#b8b8c6" stroke-width="0.45"/>
<path d="M718.50,430.70 L755.00,430.70" stroke="#999" stroke-width="0.6" fill="none" stroke-linejoin="miter" stroke-linecap="butt"/>
<path d="M718.50,432.30 L755.00,432.30" stroke="#999" stroke-width="0.6" fill="none" stroke-linejoin="miter" stroke-linecap="butt"/>
<rect x="755.00" y="429.50" width="20.50" height="4.00" fill="#f3f3f9" stroke="#707078" stroke-width="0.55"/>
<line x1="755.00" y1="430.94" x2="775.50" y2="430.94" stroke="#b8b8c6" stroke-width="0.45"/>
<line x1="755.00" y1="432.06" x2="775.50" y2="432.06" stroke="#b8b8c6" stroke-width="0.45"/>
<rect x="776.50" y="429.00" width="4.50" height="11.70" fill="#000"/>
<rect x="776.50" y="436.50" width="25.50" height="4.20" fill="#000"/>
<text x="721.50" y="506.70" textLength="42.00" lengthAdjust="spacingAndGlyphs" font-family="Liberation Sans" font-size="6.51" font-weight="bold" stroke="#222" stroke-width="0.15" fill="#222">LIVING ROOM</text>
<text x="718.00" y="517.20" textLength="48.50" lengthAdjust="spacingAndGlyphs" font-family="Liberation Sans" font-size="6.51" stroke="#222" stroke-width="0.15" fill="#222">15'10&quot; x 17'10&quot;</text>
<circle cx="735.5" cy="581" r="0.8" fill="#444"/>
<rect x="598.75" y="395.60" width="3.85" height="8.15" fill="#000"/>
<rect x="598.75" y="399.40" width="40.00" height="4.35" fill="#000"/>
<rect x="638.75" y="399.80" width="25.00" height="3.60" fill="#fff" stroke="#9a9a9a" stroke-width="0.7"/>
<rect x="663.75" y="399.40" width="6.55" height="4.35" fill="#000"/>
<path d="M639.50,399.50 L639.50,375.50 A24.00,24.00 0 0 1 663.50,399.50" fill="none" stroke="#7a7a7a" stroke-width="0.8"/>
<rect x="633.75" y="399.40" width="4.00" height="7.50" fill="#000"/>
<rect x="634.00" y="406.90" width="3.50" height="26.10" fill="#fff" stroke="#9a9a9a" stroke-width="0.7"/>
<rect x="633.75" y="433.00" width="4.00" height="30.75" fill="#000"/>
<rect x="634.00" y="463.75" width="3.50" height="22.50" fill="#fff" stroke="#9a9a9a" stroke-width="0.7"/>
<rect x="633.75" y="486.25" width="4.00" height="46.75" fill="#000"/>
<rect x="634.00" y="533.00" width="3.50" height="23.25" fill="#fff" stroke="#9a9a9a" stroke-width="0.7"/>
<rect x="633.75" y="556.25" width="4.00" height="25.00" fill="#000"/>
<path d="M633.75,407.00 L608.15,407.00 A25.60,25.60 0 0 0 633.75,432.60" fill="none" stroke="#7a7a7a" stroke-width="0.8"/>
<path d="M633.75,463.75 L611.25,463.75 A22.50,22.50 0 0 0 633.75,486.25" fill="none" stroke="#7a7a7a" stroke-width="0.8"/>
<path d="M633.75,533.00 L610.25,533.00 A23.50,23.50 0 0 0 633.75,556.50" fill="none" stroke="#7a7a7a" stroke-width="0.8"/>
<rect x="555.30" y="436.25" width="4.00" height="103.75" fill="#000"/>
<rect x="555.30" y="457.50" width="82.45" height="4.00" fill="#000"/>
<rect x="555.30" y="507.50" width="82.45" height="4.40" fill="#000"/>
<rect x="560.00" y="461.50" width="15.60" height="15.50" fill="none" stroke="#555" stroke-width="0.8"/>
<rect x="575.60" y="461.50" width="16.40" height="15.50" fill="none" stroke="#555" stroke-width="0.8"/>
<path d="M559.30,490.60 L633.75,490.60" stroke="#999" stroke-width="0.7" fill="none" stroke-linejoin="miter" stroke-linecap="butt"/>
<path d="M559.30,498.00 L633.75,498.00" stroke="#999" stroke-width="0.7" fill="none" stroke-linejoin="miter" stroke-linecap="butt"/>
<rect x="604.40" y="493.75" width="13.60" height="9.25" fill="#fff" stroke="#999" stroke-width="0.7"/>
<path d="M610.50,497.00 L610.50,502.00" stroke="#bbb" stroke-width="0.6" fill="none" stroke-linejoin="miter" stroke-linecap="butt"/>
<path d="M559.00,511.50 L593.75,511.50 L592.60,517.00 L559.00,512.50 Z" fill="#000"/>
<path d="M590.00,517.00 L579.40,553.75" stroke="#111" stroke-width="1.2" fill="none" stroke-linejoin="miter" stroke-linecap="butt"/>
<path d="M572.50,556.00 L575.00,552.80 L579.60,553.30 L579.60,559.50 L576.00,559.50 Z" fill="#000"/>
<rect x="597.25" y="512.00" width="10.50" height="4.50" fill="none" stroke="#777" stroke-width="0.7"/>
<path d="M597.4,516.5 L597.4,525 A5.2,5.6 0 0 0 607.8,525 L607.8,516.5" fill="none" stroke="#777" stroke-width="0.8"/>
<path d="M555.50,538.00 L598.00,579.40" stroke="#000" stroke-width="4.6" fill="none" stroke-linejoin="miter" stroke-linecap="butt"/>
<rect x="596.00" y="577.50" width="41.75" height="3.75" fill="#000"/>
<rect x="598.50" y="561.25" width="34.50" height="15.75" fill="none" stroke="#7a7a7a" stroke-width="0.7"/>
<rect x="609.00" y="564.75" width="14.50" height="9.00" fill="none" stroke="#666" stroke-width="0.8"/>
<ellipse cx="616.2" cy="573" rx="0.8" ry="1.6" fill="none" stroke="#666" stroke-width="0.6"/>
<text x="595.00" y="482.00" textLength="30.00" lengthAdjust="spacingAndGlyphs" font-family="Liberation Sans" font-size="6.7" stroke="#222" stroke-width="0.15" fill="#222">LAUNDRY</text>
<text x="592.00" y="489.50" textLength="36.00" lengthAdjust="spacingAndGlyphs" font-family="Liberation Sans" font-size="6.7" stroke="#222" stroke-width="0.15" fill="#222">8'11&quot; x 5'6&quot;</text>
<text x="601.25" y="542.50" textLength="16.25" lengthAdjust="spacingAndGlyphs" font-family="Liberation Sans" font-size="6.7" stroke="#222" stroke-width="0.15" fill="#222">BATH</text>
<text x="589.40" y="550.60" textLength="39.35" lengthAdjust="spacingAndGlyphs" font-family="Liberation Sans" font-size="6.7" stroke="#222" stroke-width="0.15" fill="#222">8'11&quot; x 7'10&quot;</text>
<text x="0" y="0" textLength="17.00" lengthAdjust="spacingAndGlyphs" font-size="6.7" stroke="#222" stroke-width="0.15" fill="#222" transform="translate(654.00,501.00) rotate(90)">HALL</text>
<text x="0" y="0" textLength="35.00" lengthAdjust="spacingAndGlyphs" font-size="6.7" stroke="#222" stroke-width="0.15" fill="#222" transform="translate(646.00,492.00) rotate(90)">3'4&quot; x 24'9&quot;</text>
<text x="572.50" y="589.60" textLength="15.00" lengthAdjust="spacingAndGlyphs" font-family="Liberation Sans" font-size="6.7" stroke="#222" stroke-width="0.15" fill="#222">HALL</text>
<text x="562.00" y="597.50" textLength="35.50" lengthAdjust="spacingAndGlyphs" font-family="Liberation Sans" font-size="6.7" stroke="#222" stroke-width="0.15" fill="#222">10'8&quot; x 6'8&quot;</text>
<rect x="444.00" y="440.00" width="3.70" height="373.00" fill="#000"/>
<rect x="444.00" y="477.50" width="3.70" height="23.50" fill="#f3f3f9" stroke="#707078" stroke-width="0.55"/>
<line x1="445.33" y1="477.50" x2="445.33" y2="501.00" stroke="#b8b8c6" stroke-width="0.45"/>
<line x1="446.37" y1="477.50" x2="446.37" y2="501.00" stroke="#b8b8c6" stroke-width="0.45"/>
<rect x="444.00" y="538.00" width="16.00" height="4.00" fill="#000"/>
<path d="M460.00,539.00 L471.00,527.50 L482.50,538.00 L494.00,538.50" stroke="#999" stroke-width="0.7" fill="none" stroke-linejoin="miter" stroke-linecap="butt"/>
<path d="M494.00,537.50 L567.50,612.30" stroke="#000" stroke-width="4.6" fill="none" stroke-linejoin="miter" stroke-linecap="butt"/>
<rect x="444.00" y="570.00" width="83.00" height="3.75" fill="#000"/>
<path d="M550.60,540.60 L525.60,566.25" stroke="#999" stroke-width="0.6" fill="none" stroke-linejoin="miter" stroke-linecap="butt"/>
<path d="M554.00,543.50 L529.00,569.20" stroke="#999" stroke-width="0.6" fill="none" stroke-linejoin="miter" stroke-linecap="butt"/>
<path d="M522.50,568.00 L526.50,564.00 L530.50,568.00 L526.50,572.00 Z" fill="#000"/>
<path d="M551.25,540.6 L539.4,528 A17.3,17.3 0 0 0 537,551.5" fill="none" stroke="#888" stroke-width="0.8"/>
<path d="M525.6,566.25 L514.4,553.75 A17.3,17.3 0 0 1 537,551.5" fill="none" stroke="#888" stroke-width="0.8"/>
<text x="487.00" y="494.50" textLength="22.50" lengthAdjust="spacingAndGlyphs" font-family="Liberation Sans" font-size="6.7" stroke="#222" stroke-width="0.15" fill="#222">OFFICE</text>
<text x="476.00" y="502.50" textLength="45.00" lengthAdjust="spacingAndGlyphs" font-family="Liberation Sans" font-size="6.7" stroke="#222" stroke-width="0.15" fill="#222">12'11&quot; x 11'9&quot;</text>
<rect x="444.00" y="602.50" width="22.00" height="3.50" fill="#000"/>
<path d="M466.25,603.75 L473.75,612.50 L482.50,605.00 L491.25,612.00 L498.00,603.75" stroke="#999" stroke-width="0.7" fill="none" stroke-linejoin="miter" stroke-linecap="butt"/>
<rect x="497.50" y="602.50" width="60.50" height="3.30" fill="#000"/>
<rect x="566.00" y="610.00" width="23.40" height="3.75" fill="#000"/>
<rect x="589.40" y="610.30" width="26.20" height="3.20" fill="#fff" stroke="#9a9a9a" stroke-width="0.7"/>
<rect x="615.60" y="610.00" width="26.40" height="3.75" fill="#000"/>
<path d="M616.00,614.00 L616.00,640.00 A26.00,26.00 0 0 1 590.00,614.00" fill="none" stroke="#7a7a7a" stroke-width="0.8"/>
<rect x="637.50" y="610.00" width="4.00" height="203.00" fill="#000"/>
<rect x="444.00" y="809.50" width="197.50" height="3.50" fill="#000"/>
<text x="512.50" y="702.00" textLength="44.50" lengthAdjust="spacingAndGlyphs" font-family="Liberation Sans" font-size="6.51" font-weight="bold" stroke="#222" stroke-width="0.15" fill="#222">3 CAR GARAGE</text>
<text x="522.50" y="710.50" textLength="25.00" lengthAdjust="spacingAndGlyphs" font-family="Liberation Sans" font-size="6.51" font-weight="bold" stroke="#222" stroke-width="0.15" fill="#222">32' x 23'</text>
<rect x="642.50" y="610.30" width="22.50" height="3.40" fill="#fff" stroke="#9a9a9a" stroke-width="0.7"/>
<rect x="665.00" y="609.00" width="5.00" height="57.00" fill="#000"/>
<path d="M642.50,610.00 L642.50,589.00 A21.00,21.00 0 0 1 663.50,610.00" fill="none" stroke="#7a7a7a" stroke-width="0.8"/>
<path d="M642.00,639.40 L665.00,639.40" stroke="#b0b0b0" stroke-width="0.8" fill="none" stroke-linejoin="miter" stroke-linecap="butt"/>
<path d="M642.00,646.00 L665.00,646.00" stroke="#b0b0b0" stroke-width="0.8" fill="none" stroke-linejoin="miter" stroke-linecap="butt"/>
<path d="M642.00,653.00 L665.00,653.00" stroke="#b0b0b0" stroke-width="0.8" fill="none" stroke-linejoin="miter" stroke-linecap="butt"/>
<path d="M642.00,659.40 L665.00,659.40" stroke="#b0b0b0" stroke-width="0.8" fill="none" stroke-linejoin="miter" stroke-linecap="butt"/>
<path d="M642.00,666.00 L665.00,666.00" stroke="#b0b0b0" stroke-width="0.8" fill="none" stroke-linejoin="miter" stroke-linecap="butt"/>
<path d="M642.00,672.50 L665.00,672.50" stroke="#b0b0b0" stroke-width="0.8" fill="none" stroke-linejoin="miter" stroke-linecap="butt"/>
<path d="M642.00,679.00 L665.00,679.00" stroke="#b0b0b0" stroke-width="0.8" fill="none" stroke-linejoin="miter" stroke-linecap="butt"/>
<path d="M665.00,666.00 L665.00,679.00" stroke="#999" stroke-width="0.7" fill="none" stroke-linejoin="miter" stroke-linecap="butt"/>
<path d="M669.50,666.00 L669.50,679.00 L642.00,679.00" stroke="#999" stroke-width="0.7" fill="none" stroke-linejoin="miter" stroke-linecap="butt"/>
<path d="M670.00,617.00 L709.00,648.00" stroke="#999" stroke-width="0.7" fill="none" stroke-linejoin="miter" stroke-linecap="butt"/>
<path d="M670.00,630.00 L703.00,653.00" stroke="#999" stroke-width="0.7" fill="none" stroke-linejoin="miter" stroke-linecap="butt"/>
<path d="M670.00,642.50 L699.00,658.50" stroke="#999" stroke-width="0.7" fill="none" stroke-linejoin="miter" stroke-linecap="butt"/>
<path d="M670.00,655.50 L696.00,663.50" stroke="#999" stroke-width="0.7" fill="none" stroke-linejoin="miter" stroke-linecap="butt"/>
<path d="M670.00,666.00 L694.00,669.50" stroke="#999" stroke-width="0.7" fill="none" stroke-linejoin="miter" stroke-linecap="butt"/>
<path d="M709,648 Q701,655 698.5,664 Q697,670 697,676" fill="none" stroke="#888" stroke-width="0.8"/>
<path d="M706.5,646 Q698,654 696,663 Q694.5,670 694.5,676" fill="none" stroke="#aaa" stroke-width="0.7"/>
<rect x="637.50" y="700.50" width="10.00" height="3.50" fill="#000"/>
<rect x="647.50" y="700.60" width="43.50" height="3.40" fill="#f3f3f9" stroke="#707078" stroke-width="0.55"/>
<line x1="647.50" y1="701.82" x2="691.00" y2="701.82" stroke="#b8b8c6" stroke-width="0.45"/>
<line x1="647.50" y1="702.78" x2="691.00" y2="702.78" stroke="#b8b8c6" stroke-width="0.45"/>
<rect x="691.00" y="700.50" width="8.00" height="3.50" fill="#000"/>
<rect x="695.00" y="676.00" width="4.00" height="28.00" fill="#000"/>
<rect x="695.00" y="676.00" width="14.50" height="4.00" fill="#000"/>
<rect x="709.50" y="676.30" width="50.50" height="3.20" fill="#fff" stroke="#9a9a9a" stroke-width="0.7"/>
<rect x="760.00" y="676.00" width="15.00" height="4.00" fill="#000"/>
<rect x="771.00" y="676.00" width="4.00" height="28.00" fill="#000"/>
<path d="M710.00,680.00 L710.00,704.50 A24.50,24.50 0 0 0 734.50,680.00" fill="none" stroke="#7a7a7a" stroke-width="0.8"/>
<path d="M759.50,680.00 L759.50,704.50 A24.50,24.50 0 0 1 735.00,680.00" fill="none" stroke="#7a7a7a" stroke-width="0.8"/>
<rect x="769.00" y="634.00" width="6.00" height="15.00" fill="#000"/>
<path d="M769.30,649.00 L769.30,676.00" stroke="#999" stroke-width="0.7" fill="none" stroke-linejoin="miter" stroke-linecap="butt"/>
<path d="M774.70,649.00 L774.70,676.00" stroke="#999" stroke-width="0.7" fill="none" stroke-linejoin="miter" stroke-linecap="butt"/>
<text x="723.00" y="628.00" textLength="21.00" lengthAdjust="spacingAndGlyphs" font-family="Liberation Sans" font-size="6.7" stroke="#222" stroke-width="0.15" fill="#222">FOYER</text>
<text x="713.00" y="636.00" textLength="41.50" lengthAdjust="spacingAndGlyphs" font-family="Liberation Sans" font-size="6.7" stroke="#222" stroke-width="0.15" fill="#222">12'8&quot; x 11'3&quot;</text>
<circle cx="736" cy="582" r="0.8" fill="#444"/>
<circle cx="774" cy="613" r="0.8" fill="#444"/>
<circle cx="637" cy="590" r="0.8" fill="#444"/>
<rect x="771.00" y="700.50" width="24.00" height="3.50" fill="#000"/>
<rect x="795.00" y="700.70" width="26.00" height="3.30" fill="#f3f3f9" stroke="#707078" stroke-width="0.55"/>
<line x1="795.00" y1="701.89" x2="821.00" y2="701.89" stroke="#b8b8c6" stroke-width="0.45"/>
<line x1="795.00" y1="702.81" x2="821.00" y2="702.81" stroke="#b8b8c6" stroke-width="0.45"/>
<rect x="821.00" y="700.50" width="8.50" height="3.50" fill="#000"/>
<rect x="829.50" y="700.70" width="26.50" height="3.30" fill="#f3f3f9" stroke="#707078" stroke-width="0.55"/>
<line x1="829.50" y1="701.89" x2="856.00" y2="701.89" stroke="#b8b8c6" stroke-width="0.45"/>
<line x1="829.50" y1="702.81" x2="856.00" y2="702.81" stroke="#b8b8c6" stroke-width="0.45"/>
<rect x="856.00" y="700.50" width="8.50" height="3.50" fill="#000"/>
<rect x="864.50" y="700.70" width="23.50" height="3.30" fill="#f3f3f9" stroke="#707078" stroke-width="0.55"/>
<line x1="864.50" y1="701.89" x2="888.00" y2="701.89" stroke="#b8b8c6" stroke-width="0.45"/>
<line x1="864.50" y1="702.81" x2="888.00" y2="702.81" stroke="#b8b8c6" stroke-width="0.45"/>
<rect x="888.00" y="700.50" width="28.50" height="3.50" fill="#000"/>
<rect x="912.50" y="615.50" width="4.00" height="88.50" fill="#000"/>
<rect x="912.50" y="615.50" width="61.50" height="4.00" fill="#000"/>
<text x="826.00" y="638.00" textLength="44.50" lengthAdjust="spacingAndGlyphs" font-family="Liberation Sans" font-size="6.51" font-weight="bold" stroke="#222" stroke-width="0.15" fill="#222">DINING ROOM</text>
<text x="827.50" y="649.00" textLength="41.50" lengthAdjust="spacingAndGlyphs" font-family="Liberation Sans" font-size="6.51" stroke="#222" stroke-width="0.15" fill="#222">16'5&quot; x 14'2&quot;</text>
<rect x="54.30" y="488.50" width="3.90" height="348.50" fill="#000"/>
<rect x="54.30" y="558.75" width="3.90" height="41.25" fill="#f3f3f9" stroke="#707078" stroke-width="0.55"/>
<line x1="55.70" y1="558.75" x2="55.70" y2="600.00" stroke="#b8b8c6" stroke-width="0.45"/>
<line x1="56.80" y1="558.75" x2="56.80" y2="600.00" stroke="#b8b8c6" stroke-width="0.45"/>
<rect x="54.30" y="638.00" width="3.90" height="21.00" fill="#f3f3f9" stroke="#707078" stroke-width="0.55"/>
<line x1="55.70" y1="638.00" x2="55.70" y2="659.00" stroke="#b8b8c6" stroke-width="0.45"/>
<line x1="56.80" y1="638.00" x2="56.80" y2="659.00" stroke="#b8b8c6" stroke-width="0.45"/>
<rect x="54.30" y="802.50" width="3.90" height="28.50" fill="#f3f3f9" stroke="#707078" stroke-width="0.55"/>
<line x1="55.70" y1="802.50" x2="55.70" y2="831.00" stroke="#b8b8c6" stroke-width="0.45"/>
<line x1="56.80" y1="802.50" x2="56.80" y2="831.00" stroke="#b8b8c6" stroke-width="0.45"/>
<rect x="54.30" y="488.50" width="198.20" height="4.10" fill="#000"/>
<rect x="252.50" y="489.00" width="28.00" height="3.40" fill="#fff" stroke="#9a9a9a" stroke-width="0.7"/>
<rect x="280.50" y="488.50" width="36.50" height="4.10" fill="#000"/>
<rect x="317.00" y="488.80" width="85.50" height="3.70" fill="#f3f3f9" stroke="#707078" stroke-width="0.55"/>
<line x1="317.00" y1="490.13" x2="402.50" y2="490.13" stroke="#b8b8c6" stroke-width="0.45"/>
<line x1="317.00" y1="491.17" x2="402.50" y2="491.17" stroke="#b8b8c6" stroke-width="0.45"/>
<rect x="402.50" y="488.50" width="26.00" height="4.10" fill="#000"/>
<path d="M281.00,489.00 L281.00,461.50 A27.50,27.50 0 0 0 253.50,489.00" fill="none" stroke="#7a7a7a" stroke-width="0.8"/>
<rect x="424.50" y="488.50" width="4.00" height="185.50" fill="#000"/>
<path d="M426.50,673.00 L391.50,693.50" stroke="#000" stroke-width="4" fill="none" stroke-linejoin="miter" stroke-linecap="butt"/>
<rect x="390.00" y="692.00" width="4.00" height="12.00" fill="#000"/>
<rect x="390.30" y="704.00" width="3.40" height="25.50" fill="#fff" stroke="#9a9a9a" stroke-width="0.7"/>
<rect x="390.00" y="729.50" width="4.00" height="8.50" fill="#000"/>
<rect x="379.00" y="734.00" width="15.00" height="4.00" fill="#000"/>
<rect x="329.00" y="734.20" width="50.00" height="3.60" fill="#f3f3f9" stroke="#707078" stroke-width="0.55"/>
<line x1="329.00" y1="735.50" x2="379.00" y2="735.50" stroke="#b8b8c6" stroke-width="0.45"/>
<line x1="329.00" y1="736.50" x2="379.00" y2="736.50" stroke="#b8b8c6" stroke-width="0.45"/>
<rect x="315.00" y="734.00" width="14.00" height="4.00" fill="#000"/>
<rect x="315.00" y="734.00" width="4.00" height="30.00" fill="#000"/>
<rect x="304.00" y="760.00" width="15.00" height="4.00" fill="#000"/>
<rect x="267.50" y="760.20" width="36.50" height="3.60" fill="#f3f3f9" stroke="#707078" stroke-width="0.55"/>
<line x1="267.50" y1="761.50" x2="304.00" y2="761.50" stroke="#b8b8c6" stroke-width="0.45"/>
<line x1="267.50" y1="762.50" x2="304.00" y2="762.50" stroke="#b8b8c6" stroke-width="0.45"/>
<rect x="257.00" y="760.00" width="10.50" height="4.00" fill="#000"/>
<rect x="58.00" y="526.20" width="14.50" height="3.80" fill="#000"/>
<path d="M72.50,529.50 L80.00,536.00 L87.50,530.00 L94.40,528.00" stroke="#999" stroke-width="0.7" fill="none" stroke-linejoin="miter" stroke-linecap="butt"/>
<rect x="94.40" y="526.20" width="68.60" height="3.80" fill="#000"/>
<rect x="124.50" y="492.00" width="4.00" height="35.00" fill="#000"/>
<rect x="159.30" y="492.00" width="3.70" height="5.00" fill="#000"/>
<path d="M161.00,497.00 L171.50,505.50 L163.00,514.00 L163.00,522.50" stroke="#999" stroke-width="0.7" fill="none" stroke-linejoin="miter" stroke-linecap="butt"/>
<rect x="159.30" y="522.50" width="3.70" height="133.50" fill="#000"/>
<rect x="54.30" y="632.00" width="28.70" height="4.00" fill="#000"/>
<path d="M83.00,633.00 L104.40,633.00" stroke="#bbb" stroke-width="0.6" fill="none" stroke-linejoin="miter" stroke-linecap="butt"/>
<path d="M83.00,635.30 L104.40,635.30" stroke="#bbb" stroke-width="0.6" fill="none" stroke-linejoin="miter" stroke-linecap="butt"/>
<rect x="104.40" y="632.00" width="22.60" height="4.00" fill="#000"/>
<rect x="123.00" y="632.00" width="4.00" height="50.00" fill="#000"/>
<rect x="123.30" y="682.00" width="3.40" height="22.00" fill="#fff" stroke="#9a9a9a" stroke-width="0.7"/>
<rect x="123.00" y="704.00" width="6.00" height="5.50" fill="#000"/>
<rect x="127.00" y="651.00" width="5.50" height="4.70" fill="#000"/>
<rect x="157.00" y="651.00" width="6.00" height="4.70" fill="#000"/>
<path d="M132.50,652.00 L157.00,652.00" stroke="#999" stroke-width="0.6" fill="none" stroke-linejoin="miter" stroke-linecap="butt"/>
<path d="M132.50,655.00 L157.00,655.00" stroke="#999" stroke-width="0.6" fill="none" stroke-linejoin="miter" stroke-linecap="butt"/>
<path d="M156.50,651.50 L156.50,627.10 A24.40,24.40 0 0 0 132.10,651.50" fill="none" stroke="#7a7a7a" stroke-width="0.8"/>
<rect x="106.00" y="636.00" width="17.00" height="44.00" fill="none" stroke="#7a7a7a" stroke-width="0.7"/>
<circle cx="114.4" cy="647.5" r="5.6" fill="none" stroke="#666" stroke-width="0.8"/><circle cx="114.4" cy="647.5" r="0.9" fill="#333"/>
<circle cx="114.4" cy="667.75" r="5.6" fill="none" stroke="#666" stroke-width="0.8"/><circle cx="114.4" cy="667.75" r="0.9" fill="#333"/>
<rect x="58.50" y="642.50" width="4.50" height="11.50" fill="none" stroke="#777" stroke-width="0.8"/>
<path d="M63,642.5 L71,642.5 A5.75,5.75 0 0 1 71,654 L63,654" fill="none" stroke="#777" stroke-width="0.8"/>
<rect x="58.5" y="660.5" width="26.5" height="4.5" fill="#ededed" stroke="#ccc" stroke-width="0.6"/>
<path d="M58.50,667.50 L82.80,667.50" stroke="#888" stroke-width="0.7" fill="none" stroke-linejoin="miter" stroke-linecap="butt"/>
<path d="M82.80,667.50 L82.80,705.00" stroke="#222" stroke-width="1.1" fill="none" stroke-linejoin="miter" stroke-linecap="butt"/>
<path d="M103,704 A20,20 0 0 1 123,684" fill="none" stroke="#888" stroke-width="0.8"/>
<path d="M103.00,704.00 L123.00,704.00" stroke="#999" stroke-width="0.7" fill="none" stroke-linejoin="miter" stroke-linecap="butt"/>
<path d="M105.60,704.00 L111.30,699.00 L116.30,704.00" stroke="#999" stroke-width="0.7" fill="none" stroke-linejoin="miter" stroke-linecap="butt"/>
<rect x="54.30" y="705.00" width="50.70" height="4.20" fill="#000"/>
<rect x="100.60" y="705.00" width="4.40" height="23.00" fill="#000"/>
<rect x="99.40" y="724.40" width="27.60" height="3.60" fill="#000"/>
<rect x="123.00" y="709.00" width="4.00" height="19.00" fill="#000"/>
<path d="M59.40,725.30 L99.40,725.30" stroke="#999" stroke-width="0.7" fill="none" stroke-linejoin="miter" stroke-linecap="butt"/>
<path d="M59.40,727.00 L99.40,727.00" stroke="#999" stroke-width="0.7" fill="none" stroke-linejoin="miter" stroke-linecap="butt"/>
<path d="M129.00,705.50 L153.50,705.50" stroke="#aaa" stroke-width="0.6" fill="none" stroke-linejoin="miter" stroke-linecap="butt"/>
<path d="M129.00,708.70 L153.50,708.70" stroke="#aaa" stroke-width="0.6" fill="none" stroke-linejoin="miter" stroke-linecap="butt"/>
<rect x="152.50" y="705.00" width="7.50" height="4.20" fill="#000"/>
<rect x="154.70" y="705.00" width="4.10" height="131.00" fill="#000"/>
<path d="M160.00,705.50 L183.00,705.50" stroke="#aaa" stroke-width="0.6" fill="none" stroke-linejoin="miter" stroke-linecap="butt"/>
<path d="M160.00,708.70 L183.00,708.70" stroke="#aaa" stroke-width="0.6" fill="none" stroke-linejoin="miter" stroke-linecap="butt"/>
<path d="M152.00,708.75 L152.00,731.75 A23.00,23.00 0 0 1 129.00,708.75" fill="none" stroke="#7a7a7a" stroke-width="0.8"/>
<path d="M160.60,708.75 L160.60,731.25 A22.50,22.50 0 0 0 183.10,708.75" fill="none" stroke="#7a7a7a" stroke-width="0.8"/>
<rect x="183.00" y="705.00" width="76.00" height="4.20" fill="#000"/>
<rect x="186.20" y="709.00" width="3.80" height="18.60" fill="#000"/>
<rect x="186.20" y="723.80" width="9.40" height="3.80" fill="#000"/>
<path d="M195.60,724.80 L247.50,724.80" stroke="#999" stroke-width="0.7" fill="none" stroke-linejoin="miter" stroke-linecap="butt"/>
<path d="M195.60,726.60 L247.50,726.60" stroke="#999" stroke-width="0.7" fill="none" stroke-linejoin="miter" stroke-linecap="butt"/>
<rect x="247.50" y="723.80" width="7.50" height="3.80" fill="#000"/>
<rect x="254.70" y="666.00" width="4.30" height="171.00" fill="#000"/>
<rect x="254.80" y="804.00" width="4.10" height="22.00" fill="#f3f3f9" stroke="#707078" stroke-width="0.55"/>
<line x1="256.28" y1="804.00" x2="256.28" y2="826.00" stroke="#b8b8c6" stroke-width="0.45"/>
<line x1="257.42" y1="804.00" x2="257.42" y2="826.00" stroke="#b8b8c6" stroke-width="0.45"/>
<rect x="54.30" y="832.50" width="4.70" height="4.50" fill="#000"/>
<rect x="59.00" y="832.80" width="36.50" height="4.00" fill="#f3f3f9" stroke="#707078" stroke-width="0.55"/>
<line x1="59.00" y1="834.24" x2="95.50" y2="834.24" stroke="#b8b8c6" stroke-width="0.45"/>
<line x1="59.00" y1="835.36" x2="95.50" y2="835.36" stroke="#b8b8c6" stroke-width="0.45"/>
<rect x="95.50" y="832.50" width="127.00" height="4.50" fill="#000"/>
<rect x="222.50" y="832.80" width="30.00" height="4.00" fill="#f3f3f9" stroke="#707078" stroke-width="0.55"/>
<line x1="222.50" y1="834.24" x2="252.50" y2="834.24" stroke="#b8b8c6" stroke-width="0.45"/>
<line x1="222.50" y1="835.36" x2="252.50" y2="835.36" stroke="#b8b8c6" stroke-width="0.45"/>
<rect x="252.50" y="832.50" width="6.50" height="4.50" fill="#000"/>
<rect x="195.00" y="660.50" width="59.50" height="25.00" fill="none" stroke="#555" stroke-width="0.8"/>
<rect x="191.20" y="666.20" width="4.00" height="20.10" fill="#000"/>
<rect x="282.30" y="492.00" width="8.30" height="8.00" fill="#000"/>
<rect x="282.30" y="548.00" width="8.30" height="8.00" fill="#000"/>
<rect x="282.30" y="606.00" width="8.30" height="8.00" fill="#000"/>
<rect x="282.30" y="664.00" width="8.30" height="8.00" fill="#000"/>
<path d="M286.30,500.00 L286.30,734.00" stroke="#999" stroke-width="0.6" fill="none" stroke-linejoin="miter" stroke-linecap="butt"/>
<path d="M290.30,500.00 L290.30,734.00" stroke="#999" stroke-width="0.6" fill="none" stroke-linejoin="miter" stroke-linecap="butt"/>
<path d="M259.00,734.00 L290.30,734.00" stroke="#999" stroke-width="0.6" fill="none" stroke-linejoin="miter" stroke-linecap="butt"/>
<path d="M259.00,671.00 L286.30,671.00" stroke="#b5b5b5" stroke-width="0.7" fill="none" stroke-linejoin="miter" stroke-linecap="butt"/>
<path d="M259.00,677.35 L286.30,677.35" stroke="#b5b5b5" stroke-width="0.7" fill="none" stroke-linejoin="miter" stroke-linecap="butt"/>
<path d="M259.00,683.70 L286.30,683.70" stroke="#b5b5b5" stroke-width="0.7" fill="none" stroke-linejoin="miter" stroke-linecap="butt"/>
<path d="M259.00,690.05 L286.30,690.05" stroke="#b5b5b5" stroke-width="0.7" fill="none" stroke-linejoin="miter" stroke-linecap="butt"/>
<path d="M259.00,696.40 L286.30,696.40" stroke="#b5b5b5" stroke-width="0.7" fill="none" stroke-linejoin="miter" stroke-linecap="butt"/>
<path d="M259.00,702.75 L286.30,702.75" stroke="#b5b5b5" stroke-width="0.7" fill="none" stroke-linejoin="miter" stroke-linecap="butt"/>
<path d="M259.00,709.10 L286.30,709.10" stroke="#b5b5b5" stroke-width="0.7" fill="none" stroke-linejoin="miter" stroke-linecap="butt"/>
<path d="M259.00,715.45 L286.30,715.45" stroke="#b5b5b5" stroke-width="0.7" fill="none" stroke-linejoin="miter" stroke-linecap="butt"/>
<path d="M259.00,721.80 L286.30,721.80" stroke="#b5b5b5" stroke-width="0.7" fill="none" stroke-linejoin="miter" stroke-linecap="butt"/>
<path d="M259.00,728.15 L286.30,728.15" stroke="#b5b5b5" stroke-width="0.7" fill="none" stroke-linejoin="miter" stroke-linecap="butt"/>
<text x="95.00" y="585.00" textLength="33.00" lengthAdjust="spacingAndGlyphs" font-family="Liberation Sans" font-size="6.7" stroke="#222" stroke-width="0.15" fill="#222">BEDROOM</text>
<text x="87.00" y="593.00" textLength="49.25" lengthAdjust="spacingAndGlyphs" font-family="Liberation Sans" font-size="6.7" stroke="#222" stroke-width="0.15" fill="#222">11'11&quot; x 11'11&quot;</text>
<text x="203.00" y="576.00" textLength="45.00" lengthAdjust="spacingAndGlyphs" font-family="Liberation Sans" font-size="6.7" stroke="#222" stroke-width="0.15" fill="#222">FAMILY ROOM</text>
<text x="203.00" y="584.00" textLength="45.00" lengthAdjust="spacingAndGlyphs" font-family="Liberation Sans" font-size="6.7" stroke="#222" stroke-width="0.15" fill="#222">14'11&quot; x 19'1&quot;</text>
<text x="329.00" y="597.00" textLength="55.50" lengthAdjust="spacingAndGlyphs" font-family="Liberation Sans" font-size="6.7" stroke="#222" stroke-width="0.15" fill="#222">OPEN TO BELOW</text>
<text x="152.00" y="680.00" textLength="15.50" lengthAdjust="spacingAndGlyphs" font-family="Liberation Sans" font-size="6.7" stroke="#222" stroke-width="0.15" fill="#222">HALL</text>
<text x="142.50" y="688.00" textLength="33.50" lengthAdjust="spacingAndGlyphs" font-family="Liberation Sans" font-size="6.7" stroke="#222" stroke-width="0.15" fill="#222">7'6&quot; x 5'9&quot;</text>
<text x="217.00" y="693.00" textLength="12.50" lengthAdjust="spacingAndGlyphs" font-family="Liberation Sans" font-size="6.7" stroke="#222" stroke-width="0.15" fill="#222">BAR</text>
<text x="202.50" y="701.00" textLength="42.00" lengthAdjust="spacingAndGlyphs" font-family="Liberation Sans" font-size="6.7" stroke="#222" stroke-width="0.15" fill="#222">6'11&quot; x 5'10&quot;</text>
<text x="0" y="0" textLength="18.00" lengthAdjust="spacingAndGlyphs" font-size="6.7" stroke="#222" stroke-width="0.15" fill="#222" transform="translate(98.00,661.00) rotate(90)">BATH</text>
<text x="0" y="0" textLength="35.00" lengthAdjust="spacingAndGlyphs" font-size="6.7" stroke="#222" stroke-width="0.15" fill="#222" transform="translate(90.00,652.00) rotate(90)">7'7&quot; x 8'1&quot;</text>
<text x="88.00" y="775.00" textLength="33.00" lengthAdjust="spacingAndGlyphs" font-family="Liberation Sans" font-size="6.7" stroke="#222" stroke-width="0.15" fill="#222">BEDROOM</text>
<text x="84.50" y="783.00" textLength="41.50" lengthAdjust="spacingAndGlyphs" font-family="Liberation Sans" font-size="6.7" stroke="#222" stroke-width="0.15" fill="#222">11'3&quot; x 12'2&quot;</text>
<text x="192.00" y="773.00" textLength="33.00" lengthAdjust="spacingAndGlyphs" font-family="Liberation Sans" font-size="6.7" stroke="#222" stroke-width="0.15" fill="#222">BEDROOM</text>
<text x="187.50" y="780.50" textLength="41.50" lengthAdjust="spacingAndGlyphs" font-family="Liberation Sans" font-size="6.7" stroke="#222" stroke-width="0.15" fill="#222">11'3&quot; x 12'3&quot;</text>
</svg>
</body></html>
